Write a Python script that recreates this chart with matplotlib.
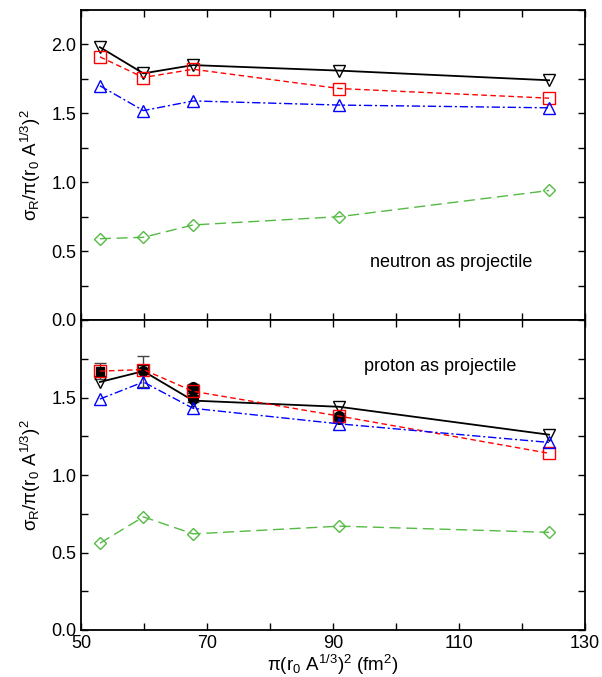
import matplotlib
matplotlib.use("Agg")
import matplotlib.pyplot as plt
import numpy as np
from matplotlib.ticker import MultipleLocator, FixedLocator, FormatStrFormatter

plt.rcParams['font.family'] = ['Liberation Sans', 'DejaVu Sans']
plt.rcParams['mathtext.fontset'] = 'custom'
plt.rcParams['mathtext.rm'] = 'Liberation Sans'
plt.rcParams['mathtext.it'] = 'Liberation Sans'

# geometric cross section pi (r0 A^1/3)^2 in fm^2
x = [53.0, 59.9, 67.8, 91.0, 124.3]

# neutron as projectile
n_black = [1.98, 1.79, 1.85, 1.81, 1.74]
n_red = [1.91, 1.76, 1.82, 1.68, 1.61]
n_blue = [1.70, 1.52, 1.59, 1.56, 1.54]
n_green = [0.59, 0.60, 0.69, 0.75, 0.94]

# proton as projectile
p_black = [1.60, 1.67, 1.48, 1.44, 1.26]
p_red = [1.67, 1.68, 1.54, 1.38, 1.14]
p_blue = [1.49, 1.60, 1.43, 1.33, 1.21]
p_green = [0.56, 0.73, 0.62, 0.67, 0.63]

# experimental proton data
exp_sq_x = [53.0]
exp_sq_y = [1.67]
exp_sq_err = [0.05]
exp_x = [59.9, 67.8, 67.8, 67.8, 91.0, 91.0]
exp_y = [1.67, 1.57, 1.55, 1.49, 1.38, 1.36]
exp_err = [0.10, 0.02, 0.02, 0.02, 0.02, 0.02]

x_major = [50, 70, 90, 110, 130]
x_minor = [60, 80, 100, 120]

fig = plt.figure(figsize=(6.02, 6.77), dpi=100)
L, R = 81 / 602, 585 / 602
ax1 = fig.add_axes([L, 1 - 320 / 677, R - L, 310 / 677])
ax2 = fig.add_axes([L, 1 - 630 / 677, R - L, 310 / 677])

ms = 8
styles = [
    ("black", "-", "v"),
    ("red", (0, (4, 2.5)), "s"),
    ("blue", (0, (6, 2, 1.5, 2)), "^"),
    ("#55bb44", (0, (8, 4)), "D"),
]


def draw(ax, series):
    for ys, (c, ls, mk) in zip(series, styles):
        ax.plot(x, ys, color=c, linestyle=ls, linewidth=1.3 if c == "black" else 1.0,
                marker=mk, markersize=ms if mk != "D" else 6.5,
                markerfacecolor="none", markeredgecolor=c, markeredgewidth=1.0)


draw(ax1, [n_black, n_red, n_blue, n_green])
ax2.errorbar(exp_x, exp_y, yerr=exp_err, fmt="o", color="black", ecolor="#444444",
             markersize=7, capsize=4, elinewidth=1, zorder=1)
ax2.errorbar(exp_sq_x, exp_sq_y, yerr=exp_sq_err, fmt="s", color="black", ecolor="#444444",
             markersize=6, capsize=4, elinewidth=1, zorder=1)
draw(ax2, [p_black, p_red, p_blue, p_green])

ylabel = r"$\sigma_{\mathrm{R}}/\pi(\mathrm{r}_0\ \mathrm{A}^{1/3})^2$"
for ax, top in [(ax1, 2.25), (ax2, 2.0)]:
    ax.set_xlim(50, 130)
    ax.set_ylim(0, top)
    ax.xaxis.set_major_locator(FixedLocator(x_major))
    ax.xaxis.set_minor_locator(FixedLocator(x_minor))
    ax.yaxis.set_major_locator(FixedLocator([0.0, 0.5, 1.0, 1.5, 2.0] if ax is ax1 else [0.0, 0.5, 1.0, 1.5]))
    ax.yaxis.set_minor_locator(MultipleLocator(0.25))
    ax.tick_params(which="both", direction="in", top=True, right=True, labelsize=13)
    ax.tick_params(which="both", length=5, width=1)
    ax.yaxis.set_major_formatter(FormatStrFormatter("%.1f"))
    for s in ax.spines.values():
        s.set_linewidth(1.3)
    ax.set_ylabel(ylabel, fontsize=13.5, labelpad=6)

ax1.tick_params(labelbottom=False)
ax1.text(0.573, 0.17, "neutron as projectile", transform=ax1.transAxes, fontsize=13)
ax2.text(0.562, 0.835, "proton as projectile", transform=ax2.transAxes, fontsize=13)
ax2.set_xlabel(r"$\pi(\mathrm{r}_0\ \mathrm{A}^{1/3})^2$ (fm$^2$)", fontsize=13.5, labelpad=1)

fig.savefig("out.png", dpi=100)
